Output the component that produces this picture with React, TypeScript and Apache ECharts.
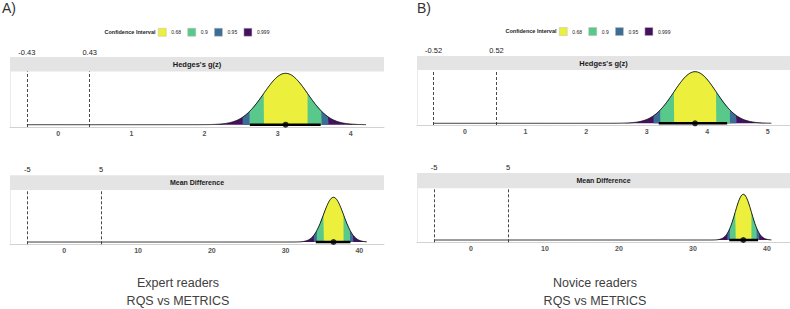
import React, { useEffect, useRef } from 'react';
import * as echarts from 'echarts';

// ---- data ----
const ciLevels = ['0.68', '0.9', '0.95', '0.999'];
const ciZ = [1.0, 1.645, 1.96, 3.29];
const ciColors = ['#ECF03C', '#58C98A', '#3C6E95', '#45105F'];

const panelTitles = ["Hedges's g(z)", 'Mean Difference', "Hedges's g(z)", 'Mean Difference'];
const estMeans = [3.11, 36.5, 3.8, 36.8];
const estSds = [0.3, 1.37, 0.35, 1.1];
const boundLow = [-0.43, -5, -0.52, -5];
const boundHigh = [0.43, 5, 0.52, 5];
const curveEnd = [4.21, 41.0, 5.06, 40.6];
const intervalLow = [2.62, 34.1, 3.2, 34.9];
const intervalHigh = [3.59, 38.8, 4.33, 38.8];
const xTickValues = [
  [0, 1, 2, 3, 4],
  [0, 10, 20, 30, 40],
  [0, 1, 2, 3, 4, 5],
  [0, 10, 20, 30, 40],
];
const figureLabels = ['A)', 'B)'];
const captionLine1 = ['Expert readers', 'Novice readers'];
const captionLine2 = ['RQS vs METRICS', 'RQS vs METRICS'];
const legendTitle = 'Confidence Interval';

// ---- layout ----
const FONT = '"Liberation Sans", Arial, sans-serif';
const layout = [
  { left: 10, width: 374, top: 71.5, height: 55.5, stripTop: 57, stripH: 14.5, xMin: -0.661, xMax: 4.456, yMin: -0.045, yMax: 1.035, topMargin: 15.5, titleSize: 7.5 },
  { left: 10, width: 374, top: 190, height: 54.3, stripTop: 175.3, stripH: 14.7, xMin: -7.36, xMax: 43.35, yMin: -0.051, yMax: 1.163, topMargin: 16.5, titleSize: 7 },
  { left: 417, width: 373, top: 70, height: 55, stripTop: 56, stripH: 14, xMin: -0.793, xMax: 5.368, yMin: -0.033, yMax: 1.033, topMargin: 15.5, titleSize: 7.5 },
  { left: 417, width: 373, top: 188.3, height: 54, stripTop: 173, stripH: 15.3, xMin: -7.3, xMax: 43.11, yMin: -0.05, yMax: 1.131, topMargin: 17, titleSize: 7 },
];
const sideLayout = [
  { labelX: 2, legendLeft: 158, legendTop: 28, titleRight: 155.5, titleY: 32, captionX: 178 },
  { labelX: 417, legendLeft: 559, legendTop: 27.3, titleRight: 556.5, titleY: 31.3, captionX: 595 },
];

function densityPoints(m: number, s: number, a: number, b: number, n: number) {
  const pts: number[][] = [];
  for (let k = 0; k <= n; k++) {
    const x = a + ((b - a) * k) / n;
    pts.push([x, Math.exp(-0.5 * ((x - m) / s) ** 2)]);
  }
  return pts;
}

function buildOption() {
  const grid: any[] = [];
  const xAxis: any[] = [];
  const yAxis: any[] = [];
  const series: any[] = [];
  const graphic: any[] = [];

  layout.forEach((L, i) => {
    grid.push({ left: L.left, top: L.top, width: L.width, height: L.height, containLabel: false, outerBoundsMode: 'none' });
    xAxis.push({
      type: 'value', gridIndex: i, min: L.xMin, max: L.xMax, position: 'bottom',
      axisLine: { show: true, onZero: false, lineStyle: { color: '#d2d2d2', width: 1 } },
      axisTick: { show: false },
      splitLine: { show: false },
      axisLabel: { customValues: xTickValues[i], fontSize: 7, fontWeight: 'bold', color: '#555', margin: 3, fontFamily: FONT },
    });
    yAxis.push({
      type: 'value', gridIndex: i, min: L.yMin, max: L.yMax,
      axisLine: { show: true, onZero: false, lineStyle: { color: '#ebebeb' } },
      axisTick: { show: false }, axisLabel: { show: false }, splitLine: { show: false },
    });
  });
  // secondary (top) axes showing the equivalence bounds
  layout.forEach((L, i) => {
    xAxis.push({
      type: 'value', gridIndex: i, min: L.xMin, max: L.xMax, position: 'top',
      axisLine: { show: false }, axisTick: { show: false }, splitLine: { show: false },
      axisLabel: { customValues: [boundLow[i], boundHigh[i]], fontSize: 7.5, color: '#222', margin: L.topMargin, fontFamily: FONT },
    });
  });

  layout.forEach((L, i) => {
    const m = estMeans[i];
    const s = estSds[i];
    for (let j = ciLevels.length - 1; j >= 0; j--) {
      series.push({
        type: 'line', name: ciLevels[j], xAxisIndex: i, yAxisIndex: i,
        data: densityPoints(m, s, m - ciZ[j] * s, m + ciZ[j] * s, 160),
        symbol: 'none', showSymbol: false, silent: true,
        lineStyle: { width: 0 },
        itemStyle: { color: ciColors[j] },
        areaStyle: { color: ciColors[j], opacity: 1 },
        z: 2,
      });
    }
    series.push({
      type: 'line', xAxisIndex: i, yAxisIndex: i,
      data: densityPoints(m, s, boundLow[i], curveEnd[i], 900),
      symbol: 'none', showSymbol: false, silent: true,
      lineStyle: { color: '#111', width: 0.9 },
      z: 3,
      markLine: {
        silent: true, symbol: ['none', 'none'], label: { show: false },
        lineStyle: { type: [3, 2], color: '#333', width: 0.9 },
        data: [{ xAxis: boundLow[i] }, { xAxis: boundHigh[i] }],
      },
    });
    series.push({
      type: 'line', xAxisIndex: i, yAxisIndex: i,
      data: [[intervalLow[i], 0], [intervalHigh[i], 0]],
      symbol: 'none', showSymbol: false, silent: true,
      lineStyle: { color: '#000', width: 2.6 },
      z: 4,
    });
    series.push({
      type: 'scatter', xAxisIndex: i, yAxisIndex: i,
      data: [[m, 0]], symbolSize: 6, silent: true,
      itemStyle: { color: '#000' }, z: 5,
    });

    graphic.push({
      type: 'rect', shape: { x: L.left, y: L.stripTop, width: L.width, height: L.stripH },
      style: { fill: '#e4e4e4' }, silent: true,
    });
    graphic.push({
      type: 'text', x: L.left + L.width / 2, y: L.stripTop + L.stripH / 2,
      style: { text: panelTitles[i], fontSize: L.titleSize, fontWeight: 'bold', fill: '#1a1a1a', align: 'center', verticalAlign: 'middle', fontFamily: FONT },
      silent: true,
    });
  });

  const legend: any[] = [];
  sideLayout.forEach((S, k) => {
    legend.push({
      data: ciLevels, left: S.legendLeft, top: S.legendTop, padding: 0, orient: 'horizontal',
      icon: 'rect', itemWidth: 8, itemHeight: 8, itemGap: 6.5, selectedMode: false,
      itemStyle: { borderColor: '#bbb', borderWidth: 0.5 },
      textStyle: { fontSize: 5, color: '#222', fontFamily: FONT },
    });
    graphic.push({
      type: 'text', x: S.titleRight, y: S.titleY,
      style: { text: legendTitle, fontSize: 5.5, fontWeight: 'bold', fill: '#222', align: 'right', verticalAlign: 'middle', fontFamily: FONT },
      silent: true,
    });
    graphic.push({
      type: 'text', x: S.labelX, y: 8,
      style: { text: figureLabels[k], fontSize: 14, fill: '#333', align: 'left', verticalAlign: 'middle', fontFamily: FONT },
      silent: true,
    });
    graphic.push({
      type: 'text', x: S.captionX, y: 283,
      style: { text: captionLine1[k], fontSize: 12.5, fill: '#404040', align: 'center', verticalAlign: 'middle', fontFamily: FONT },
      silent: true,
    });
    graphic.push({
      type: 'text', x: S.captionX, y: 301,
      style: { text: captionLine2[k], fontSize: 12.5, fill: '#404040', align: 'center', verticalAlign: 'middle', fontFamily: FONT },
      silent: true,
    });
  });

  return {
    animation: false,
    backgroundColor: '#ffffff',
    textStyle: { fontFamily: FONT },
    grid, xAxis, yAxis, series, legend, graphic,
  };
}

export default function App() {
  const ref = useRef<HTMLDivElement>(null);
  useEffect(() => {
    if (!ref.current) return;
    const chart = echarts.init(ref.current, undefined, { renderer: 'svg' });
    chart.setOption(buildOption() as any);
    return () => chart.dispose();
  }, []);
  return (
    <div
      ref={ref}
      style={{ position: 'fixed', left: 0, top: 0, width: 790, height: 309, background: '#fff' }}
    />
  );
}
